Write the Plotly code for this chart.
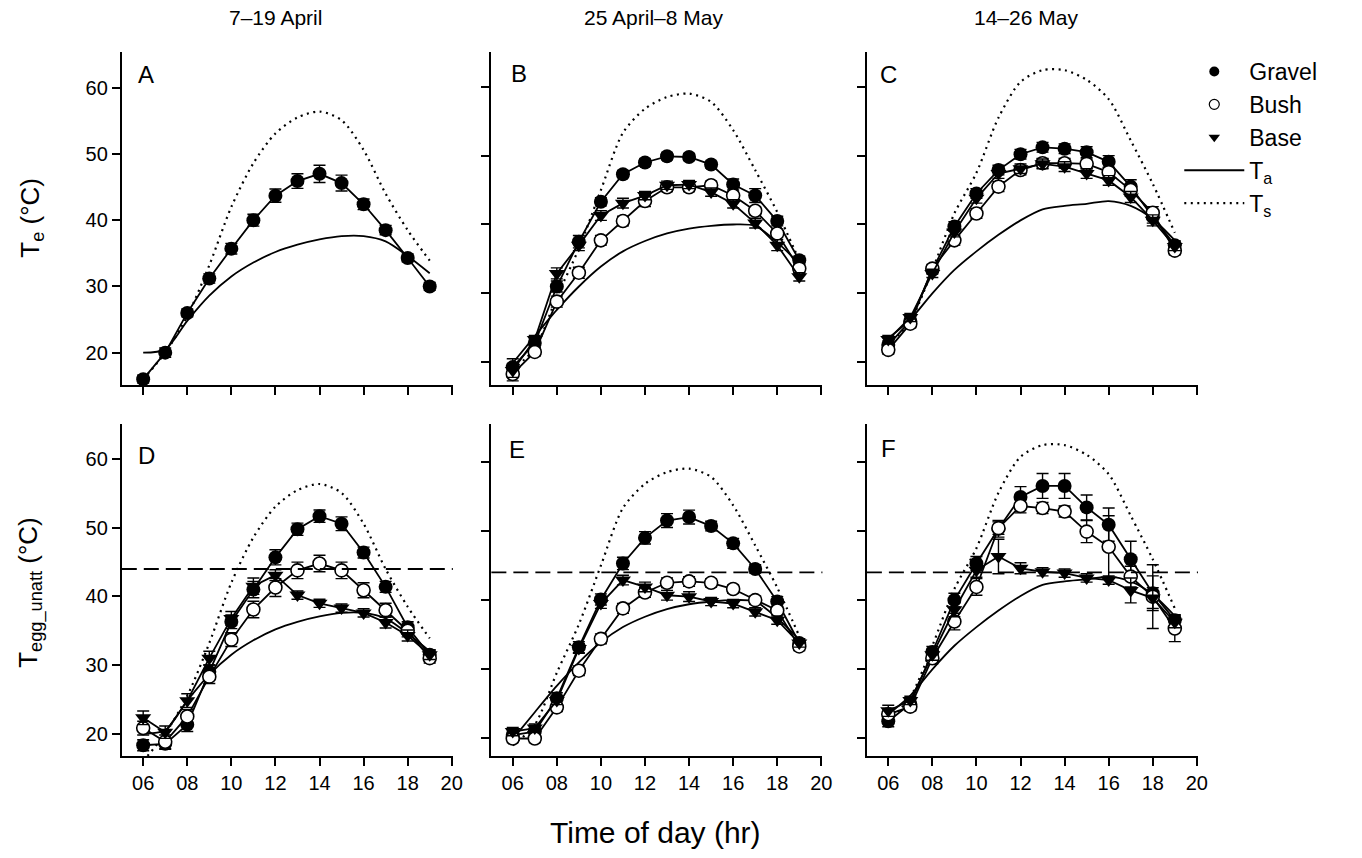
import plotly.graph_objects as go

FONT = "Liberation Sans, Arial, sans-serif"

hours = list(range(6, 20))

# air temperature (Ta) and substrate surface temperature (Ts), one curve per period
ta_apr = [20.0, 20.5, 24.8, 28.6, 31.5, 33.6, 35.2, 36.3, 37.1, 37.6, 37.6, 36.8, 34.6, 32.0]
ts_apr = [16.0, 20.0, 25.5, 33.2, 42.0, 48.6, 53.1, 55.5, 56.4, 55.1, 50.6, 44.0, 38.5, 33.9]
ta_lapr = [19.9, 23.8, 27.6, 31.0, 33.9, 36.1, 37.6, 38.7, 39.4, 39.8, 40.0, 39.8, 37.4, 34.3]
ts_lapr = [19.0, 22.0, 29.5, 36.5, 45.0, 53.3, 56.8, 58.5, 59.0, 57.8, 53.7, 47.9, 41.8, 34.8]
ta_may = [23.5, 26.2, 30.0, 33.4, 36.1, 38.5, 40.6, 42.2, 42.7, 43.0, 43.4, 42.7, 40.8, 37.7]
ts_may = [22.5, 26.0, 33.4, 41.6, 47.5, 55.5, 60.7, 62.4, 62.4, 61.0, 58.2, 52.2, 45.9, 38.8]

# Te (operative temperature), panels A-C
gravel_a = [16.0, 20.0, 26.0, 31.2, 35.7, 40.0, 43.7, 45.9, 47.0, 45.6, 42.4, 38.5, 34.3, 30.0]
gravel_a_se = [0.6, 0.7, 0.6, 0.7, 0.8, 0.9, 1.0, 1.1, 1.3, 1.2, 0.8, 0.7, 0.6, 0.6]

gravel_b = [19.3, 22.8, 31.0, 37.5, 43.3, 47.3, 49.0, 49.9, 49.8, 48.7, 45.8, 44.2, 40.5, 34.8]
bush_b = [18.3, 21.5, 28.8, 33.0, 37.7, 40.5, 43.4, 45.4, 45.4, 45.7, 44.2, 42.0, 38.7, 33.6]
base_b = [18.8, 23.3, 32.9, 37.0, 41.3, 43.1, 44.2, 45.7, 45.8, 44.7, 43.0, 40.2, 37.0, 32.4]
gravel_b_se = [1.2, 0.6, 0.8, 0.9, 0.6, 0.5, 0.5, 0.5, 0.5, 0.5, 0.8, 1.0, 0.7, 0.6]
bush_b_se = [1.0, 0.6, 0.8, 0.8, 0.7, 0.7, 0.8, 0.6, 0.6, 0.6, 0.6, 0.6, 0.6, 0.6]
base_b_se = [1.0, 0.6, 0.8, 0.8, 0.7, 0.7, 0.6, 0.6, 0.6, 0.6, 0.6, 0.7, 0.8, 0.6]

gravel_c = [22.5, 26.0, 33.4, 39.7, 44.5, 47.9, 50.2, 51.2, 51.0, 50.5, 49.1, 45.5, 41.1, 37.0]
bush_c = [21.8, 25.6, 33.6, 37.7, 41.6, 45.5, 47.9, 48.9, 48.9, 48.8, 47.6, 45.0, 41.7, 36.2]
base_c = [23.3, 26.5, 32.9, 38.9, 43.8, 47.4, 48.1, 48.8, 48.4, 47.4, 46.4, 44.0, 40.6, 36.8]
gravel_c_se = [0.6, 0.6, 0.6, 0.7, 0.7, 0.7, 0.7, 0.7, 0.7, 0.8, 0.9, 1.0, 0.9, 0.6]
bush_c_se = [0.6, 0.6, 0.6, 0.7, 0.7, 0.7, 0.7, 0.7, 0.7, 0.7, 0.7, 0.9, 0.9, 0.6]
base_c_se = [0.6, 0.6, 0.6, 0.7, 0.7, 0.7, 0.7, 0.7, 0.7, 0.7, 0.7, 0.8, 0.8, 0.6]

# Tegg_unatt (unattended egg temperature), panels D-F
gravel_d = [18.3, 18.5, 21.3, 29.0, 36.3, 41.0, 45.7, 49.8, 51.7, 50.6, 46.4, 41.4, 35.5, 31.5]
bush_d = [20.8, 18.8, 22.5, 28.3, 33.7, 38.1, 41.3, 43.8, 44.8, 43.8, 40.9, 38.0, 35.0, 31.0]
base_d = [22.3, 20.2, 24.8, 31.0, 36.8, 41.5, 43.1, 40.2, 39.0, 38.3, 37.6, 36.2, 34.3, 31.5]
gravel_d_se = [0.8, 0.8, 1.0, 1.0, 1.0, 1.2, 1.1, 0.9, 0.9, 1.0, 0.8, 0.8, 0.8, 0.7]
bush_d_se = [1.0, 1.0, 1.0, 1.0, 1.0, 1.2, 1.3, 1.2, 1.2, 1.2, 1.1, 1.0, 0.9, 0.7]
base_d_se = [1.0, 0.9, 1.0, 1.0, 1.0, 1.2, 0.8, 0.6, 0.6, 0.6, 0.6, 0.8, 0.8, 0.7]

gravel_e = [20.5, 21.0, 25.8, 33.2, 40.1, 45.3, 49.0, 51.5, 52.0, 50.7, 48.2, 44.5, 39.8, 33.8]
bush_e = [20.0, 20.0, 24.5, 29.8, 34.4, 38.8, 41.1, 42.5, 42.7, 42.5, 41.6, 40.0, 38.5, 33.3]
base_e = [21.0, 21.5, 25.5, 33.0, 39.5, 42.9, 41.9, 40.7, 40.5, 39.8, 39.5, 38.3, 37.1, 33.8]
gravel_e_se = [0.6, 0.6, 0.8, 0.8, 0.8, 0.9, 0.9, 1.0, 1.0, 0.7, 0.7, 0.6, 0.7, 0.6]
bush_e_se = [0.6, 0.6, 0.6, 0.7, 0.7, 0.7, 0.7, 0.7, 0.7, 0.6, 0.6, 0.6, 0.6, 0.6]
base_e_se = [0.6, 0.6, 0.6, 0.7, 0.7, 0.7, 0.7, 0.7, 0.7, 0.6, 0.6, 0.6, 0.6, 0.6]

gravel_f = [22.5, 25.0, 32.5, 40.0, 45.3, 50.3, 54.9, 56.5, 56.5, 53.4, 50.9, 45.9, 41.0, 37.1]
bush_f = [23.5, 24.6, 31.6, 36.9, 41.9, 50.4, 53.6, 53.3, 52.8, 49.9, 47.7, 43.4, 40.5, 35.9]
base_f = [24.0, 25.5, 32.1, 38.6, 44.3, 46.3, 44.6, 44.1, 43.9, 43.2, 42.9, 41.4, 40.3, 36.8]
gravel_f_se = [0.8, 0.6, 0.8, 1.0, 1.0, 1.2, 1.5, 1.8, 1.8, 1.8, 2.4, 2.6, 2.5, 0.8]
bush_f_se = [0.8, 0.6, 0.8, 1.2, 1.2, 0.9, 1.0, 0.8, 0.8, 1.6, 4.5, 1.5, 4.6, 1.9]
base_f_se = [0.8, 0.6, 0.8, 1.0, 1.0, 2.5, 0.8, 0.6, 0.6, 0.6, 0.6, 1.8, 1.5, 0.8]

thresh = 44.0  # dashed line in D-F

col_titles = ["7\u201319 April", "25 April\u20138 May", "14\u201326 May"]
letters = ["A", "B", "C", "D", "E", "F"]
xtick_vals = [6, 8, 10, 12, 14, 16, 18, 20]
xtick_text = ["06", "08", "10", "12", "14", "16", "18", "20"]
ytick_vals = [20, 30, 40, 50, 60]

panels = [
    dict(ta=ta_apr, ts=ts_apr, g=gravel_a, gse=gravel_a_se, b=None, bse=None, s=None, sse=None),
    dict(ta=ta_lapr, ts=ts_lapr, g=gravel_b, gse=gravel_b_se, b=bush_b, bse=bush_b_se, s=base_b, sse=base_b_se),
    dict(ta=ta_may, ts=ts_may, g=gravel_c, gse=gravel_c_se, b=bush_c, bse=bush_c_se, s=base_c, sse=base_c_se),
    dict(ta=ta_apr, ts=ts_apr, g=gravel_d, gse=gravel_d_se, b=bush_d, bse=bush_d_se, s=base_d, sse=base_d_se),
    dict(ta=ta_lapr, ts=ts_lapr, g=gravel_e, gse=gravel_e_se, b=bush_e, bse=bush_e_se, s=base_e, sse=base_e_se),
    dict(ta=ta_may, ts=ts_may, g=gravel_f, gse=gravel_f_se, b=bush_f, bse=bush_f_se, s=base_f, sse=base_f_se),
]

W, H = 1362, 858
# pixel boxes of the panels
col_px = [(122.7, 456.2), (495.0, 828.5), (873.3, 1206.8)]
row_px = [(52, 385), (424, 756)]
yranges = [[15.12, 65.39], [16.7, 65.04], [16.7, 65.04],
           [16.73, 65.15], [17.47, 65.45], [17.47, 65.45]]

fig = go.Figure()

TS_DASH = "2px,4.5px"


def err(a):
    return dict(type="data", array=a, color="black", thickness=1.4, width=6)


for i, p in enumerate(panels):
    sfx = "" if i == 0 else str(i + 1)
    xa, ya = "x" + sfx, "y" + sfx
    fig.add_trace(go.Scatter(x=hours, y=p["ts"], mode="lines", xaxis=xa, yaxis=ya,
                             line=dict(color="black", width=2.2, dash=TS_DASH, shape="spline", smoothing=0.8),
                             showlegend=False, hoverinfo="skip"))
    fig.add_trace(go.Scatter(x=hours, y=p["ta"], mode="lines", xaxis=xa, yaxis=ya,
                             line=dict(color="black", width=1.8, shape="spline", smoothing=0.8),
                             showlegend=False, hoverinfo="skip"))
    fig.add_trace(go.Scatter(x=hours, y=p["g"], mode="lines+markers", xaxis=xa, yaxis=ya,
                             line=dict(color="black", width=1.8), error_y=err(p["gse"]),
                             marker=dict(symbol="circle", size=14, color="black"),
                             showlegend=False))
    if p["b"] is not None:
        fig.add_trace(go.Scatter(x=hours, y=p["b"], mode="lines+markers", xaxis=xa, yaxis=ya,
                                 line=dict(color="black", width=1.8), error_y=err(p["bse"]),
                                 marker=dict(symbol="circle", size=13, color="white",
                                             line=dict(color="black", width=1.6)),
                                 showlegend=False))
        fig.add_trace(go.Scatter(x=hours, y=p["s"], mode="lines+markers", xaxis=xa, yaxis=ya,
                                 line=dict(color="black", width=1.8), error_y=err(p["sse"]),
                                 marker=dict(symbol="triangle-down", size=14, color="black"),
                                 showlegend=False))

    r, c = divmod(i, 3)
    x0, x1 = col_px[c]
    y0, y1 = row_px[r]
    fig.layout["xaxis" + sfx] = dict(
        domain=[x0 / W, x1 / W], anchor=ya, range=[5.03, 20.05],
        tickvals=xtick_vals, ticktext=xtick_text, showticklabels=(r == 1),
        showline=True, linecolor="black", linewidth=2, ticks="outside", ticklen=8,
        tickwidth=2, tickcolor="black", showgrid=False, zeroline=False,
        tickfont=dict(family=FONT, size=20, color="black"))
    fig.layout["yaxis" + sfx] = dict(
        domain=[1 - y1 / H, 1 - y0 / H], anchor=xa, range=yranges[i],
        tickvals=ytick_vals, showticklabels=(c == 0),
        showline=True, linecolor="black", linewidth=2, ticks="outside", ticklen=8,
        tickwidth=2, tickcolor="black", showgrid=False, zeroline=False,
        tickfont=dict(family=FONT, size=20, color="black"))
    if r == 1:
        fig.add_shape(type="line", xref=xa + " domain", yref=ya, x0=0, x1=1, y0=thresh, y1=thresh,
                      line=dict(color="black", width=1.8, dash="15px,7px"))

# legend entries
fig.add_trace(go.Scatter(x=[None], y=[None], mode="markers", name="Gravel", xaxis="x3", yaxis="y3",
                         marker=dict(symbol="circle", size=10, color="black")))
fig.add_trace(go.Scatter(x=[None], y=[None], mode="markers", name="Bush", xaxis="x3", yaxis="y3",
                         marker=dict(symbol="circle", size=10, color="white", line=dict(color="black", width=1.2))))
fig.add_trace(go.Scatter(x=[None], y=[None], mode="markers", name="Base", xaxis="x3", yaxis="y3",
                         marker=dict(symbol="triangle-down", size=10, color="black")))
fig.add_trace(go.Scatter(x=[None], y=[None], mode="lines", name="T<sub>a</sub>", xaxis="x3", yaxis="y3",
                         line=dict(color="black", width=2)))
fig.add_trace(go.Scatter(x=[None], y=[None], mode="lines", name="T<sub>s</sub>", xaxis="x3", yaxis="y3",
                         line=dict(color="black", width=2.2, dash=TS_DASH)))

ann = []
col_centers = [278, 658, 1034]
for t, cx in zip(col_titles, col_centers):
    ann.append(dict(text=t, x=cx / W, y=1 - 18 / H, xref="paper", yref="paper", showarrow=False,
                    xanchor="center", yanchor="middle", font=dict(family=FONT, size=21, color="black")))
letter_pos = [(137, 75), (513, 74), (884, 75), (137, 455), (511, 449), (886, 448)]
for L, (lx, ly) in zip(letters, letter_pos):
    ann.append(dict(text=L, x=lx / W, y=1 - ly / H, xref="paper", yref="paper", showarrow=False,
                    xanchor="left", yanchor="middle", font=dict(family=FONT, size=24, color="black")))
ann.append(dict(text="T<sub>e</sub> (\u00b0C)", x=32 / W, y=1 - 218 / H, xref="paper", yref="paper",
                showarrow=False, textangle=-90, xanchor="center", yanchor="middle",
                font=dict(family=FONT, size=26, color="black")))
ann.append(dict(text="T<sub>egg_unatt</sub> (\u00b0C)", x=30 / W, y=1 - 592 / H, xref="paper", yref="paper",
                showarrow=False, textangle=-90, xanchor="center", yanchor="middle",
                font=dict(family=FONT, size=26, color="black")))
ann.append(dict(text="Time of day (hr)", x=660 / W, y=1 - 832 / H, xref="paper", yref="paper",
                showarrow=False, xanchor="center", yanchor="middle",
                font=dict(family=FONT, size=30, color="black")))

fig.update_layout(
    width=W, height=H, margin=dict(l=0, r=0, t=0, b=0),
    paper_bgcolor="white", plot_bgcolor="white",
    annotations=ann,
    legend=dict(x=1188 / W, y=1 - 50 / H, xanchor="left", yanchor="top",
                font=dict(family=FONT, size=23, color="black"),
                bgcolor="rgba(0,0,0,0)", itemwidth=60, tracegroupgap=0),
)

fig.write_html("out.html", config={"displayModeBar": False},
               post_script="document.body.style.margin='0';")
